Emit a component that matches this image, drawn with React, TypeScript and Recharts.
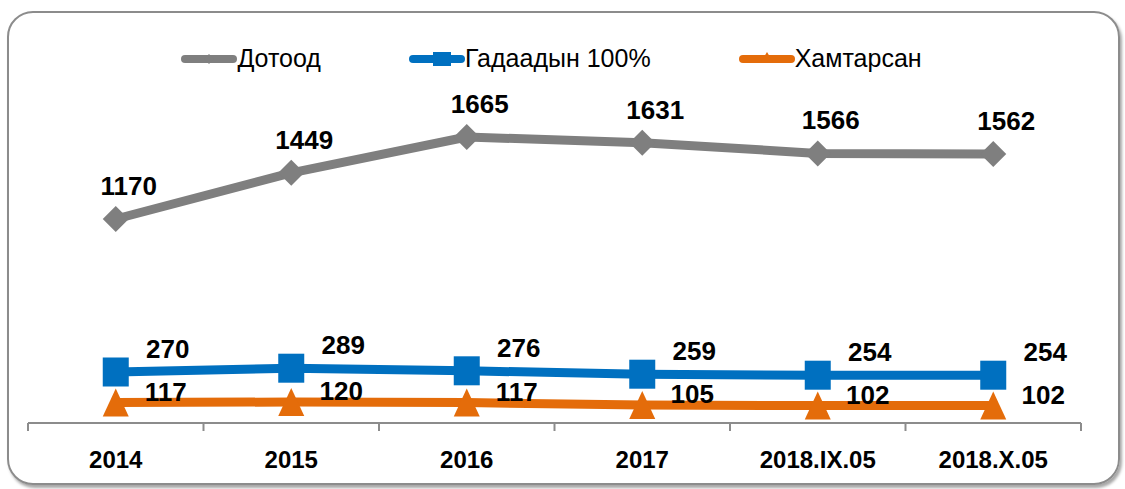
import React from 'react';
import { LineChart, Line, XAxis, YAxis, Legend, LabelList } from 'recharts';

// categories on the x axis
const categories = ['2014', '2015', '2016', '2017', '2018.IX.05', '2018.X.05'];

// series values
const domestic = [1170, 1449, 1665, 1631, 1566, 1562];
const foreign = [270, 289, 276, 259, 254, 254];
const joint = [117, 120, 117, 105, 102, 102];

const seriesNames = {
  domestic: 'Дотоод',
  foreign: 'Гадаадын 100%',
  joint: 'Хамтарсан',
};
const seriesOrder = ['domestic', 'foreign', 'joint'];

const GRAY = '#7f7f7f';
const BLUE = '#0070c0';
const ORANGE = '#e46c0a';
const AXIS = '#8c8c8c';
const FONT = '"Liberation Sans", Arial, sans-serif';

const data = categories.map((name, idx) => ({
  idx,
  name,
  domestic: domestic[idx],
  foreign: foreign[idx],
  joint: joint[idx],
}));

// tick at every category centre plus the boundaries between them
const xTicks = [-0.5, ...categories.flatMap((_, i) => [i, i + 0.5])];

const CategoryTick = ({ x, y, payload }: any) => {
  const v = payload.value;
  if (!Number.isInteger(v)) {
    return <line x1={x} x2={x} y1={y} y2={y + 8} stroke={AXIS} strokeWidth={2} />;
  }
  return (
    <text x={x} y={y + 45} textAnchor="middle" fontFamily={FONT} fontWeight="bold" fontSize={24} fill="#000">
      {categories[v]}
    </text>
  );
};

const Diamond = ({ cx, cy, fill, r = 13 }: any) => (
  <path d={`M${cx} ${cy - r}L${cx + r} ${cy}L${cx} ${cy + r}L${cx - r} ${cy}Z`} fill={fill} />
);

const Square = ({ cx, cy, fill, w = 26, h = 29 }: any) => (
  <rect x={cx - w / 2} y={cy - h / 2} width={w} height={h} fill={fill} />
);

const Triangle = ({ cx, cy, fill, w = 26, h = 28 }: any) => (
  <path d={`M${cx} ${cy - h / 2}L${cx + w / 2} ${cy + h / 2}L${cx - w / 2} ${cy + h / 2}Z`} fill={fill} />
);

const makeLabel = (dx: number, dy: number) => (props: any) => {
  const x = props.x ?? props.viewBox?.x;
  const y = props.y ?? props.viewBox?.y;
  if (x == null || y == null) return null;
  return (
    <text x={x + dx} y={y + dy} textAnchor="middle" fontFamily={FONT} fontWeight="bold" fontSize={26} fill="#000">
      {props.value}
    </text>
  );
};

const legendIcon = (key: string, color: string) => {
  const line = <line x1={4} x2={52} y1={10} y2={10} stroke={color} strokeWidth={8} strokeLinecap="round" />;
  if (key === 'domestic') return <>{line}<Diamond cx={28} cy={10} r={5} fill={color} /></>;
  if (key === 'foreign') return <>{line}<Square cx={33} cy={10} w={18} h={14} fill={color} /></>;
  return <>{line}<Triangle cx={28} cy={8} w={12} h={10} fill={color} /></>;
};

const ChartLegend = ({ payload }: any) => {
  const items = [...(payload || [])].sort(
    (a: any, b: any) => seriesOrder.indexOf(a.dataKey) - seriesOrder.indexOf(b.dataKey)
  );
  return (
    <div style={{ display: 'flex', justifyContent: 'center', gap: 88 }}>
      {items.map((p: any) => (
        <div key={p.dataKey} style={{ display: 'flex', alignItems: 'center' }}>
          <svg width={56} height={20}>{legendIcon(p.dataKey, p.color)}</svg>
          <span style={{ fontFamily: FONT, fontSize: 25, color: '#000', lineHeight: '29px' }}>{p.value}</span>
        </div>
      ))}
    </div>
  );
};

export default function App() {
  return (
    <div style={{ position: 'absolute', left: 0, top: 0, width: 1125, height: 489, background: '#fff' }}>
      <div
        style={{
          position: 'absolute',
          left: 7,
          top: 11,
          width: 1113,
          height: 474,
          boxSizing: 'border-box',
          border: `2px solid ${AXIS}`,
          borderRadius: 26,
          boxShadow: '2px 3px 3px rgba(0,0,0,0.35)',
        }}
      />
      <div style={{ position: 'absolute', left: 0, top: 0 }}>
        <LineChart width={1125} height={489} data={data} margin={{ top: 80, right: 44, bottom: 6, left: 28 }}>
          <XAxis
            dataKey="idx"
            type="number"
            domain={[-0.5, 5.5]}
            allowDataOverflow
            ticks={xTicks}
            interval={0}
            tick={(p: any) => <CategoryTick {...p} />}
            tickLine={false}
            tickSize={0}
            tickMargin={0}
            height={60}
            axisLine={{ stroke: AXIS, strokeWidth: 2 }}
          />
          <YAxis yAxisId="left" hide type="number" domain={[15, 1730]} allowDataOverflow />
          <YAxis yAxisId="right" hide orientation="right" type="number" domain={[-61, 2009]} allowDataOverflow />
          <Legend
            layout="horizontal"
            verticalAlign="middle"
            align="center"
            wrapperStyle={{ top: 44, left: 0, width: 1103 }}
            content={<ChartLegend />}
          />
          <Line
            yAxisId="right"
            dataKey="domestic"
            name={seriesNames.domestic}
            stroke={GRAY}
            strokeWidth={9}
            strokeLinejoin="round"
            isAnimationActive={false}
            activeDot={false}
            dot={(p: any) => <Diamond key={`d-${p.index}`} cx={p.cx} cy={p.cy} fill={GRAY} />}
          >
            <LabelList dataKey="domestic" content={makeLabel(13, -24)} />
          </Line>
          <Line
            yAxisId="left"
            dataKey="foreign"
            name={seriesNames.foreign}
            stroke={BLUE}
            strokeWidth={9}
            strokeLinejoin="round"
            isAnimationActive={false}
            activeDot={false}
            dot={(p: any) => <Square key={`s-${p.index}`} cx={p.cx} cy={p.cy} fill={BLUE} />}
          >
            <LabelList dataKey="foreign" content={makeLabel(52, -14)} />
          </Line>
          <Line
            yAxisId="left"
            dataKey="joint"
            name={seriesNames.joint}
            stroke={ORANGE}
            strokeWidth={9}
            strokeLinejoin="round"
            isAnimationActive={false}
            activeDot={false}
            dot={(p: any) => <Triangle key={`t-${p.index}`} cx={p.cx} cy={p.cy} fill={ORANGE} />}
          >
            <LabelList dataKey="joint" content={makeLabel(50, -2)} />
          </Line>
        </LineChart>
      </div>
    </div>
  );
}
